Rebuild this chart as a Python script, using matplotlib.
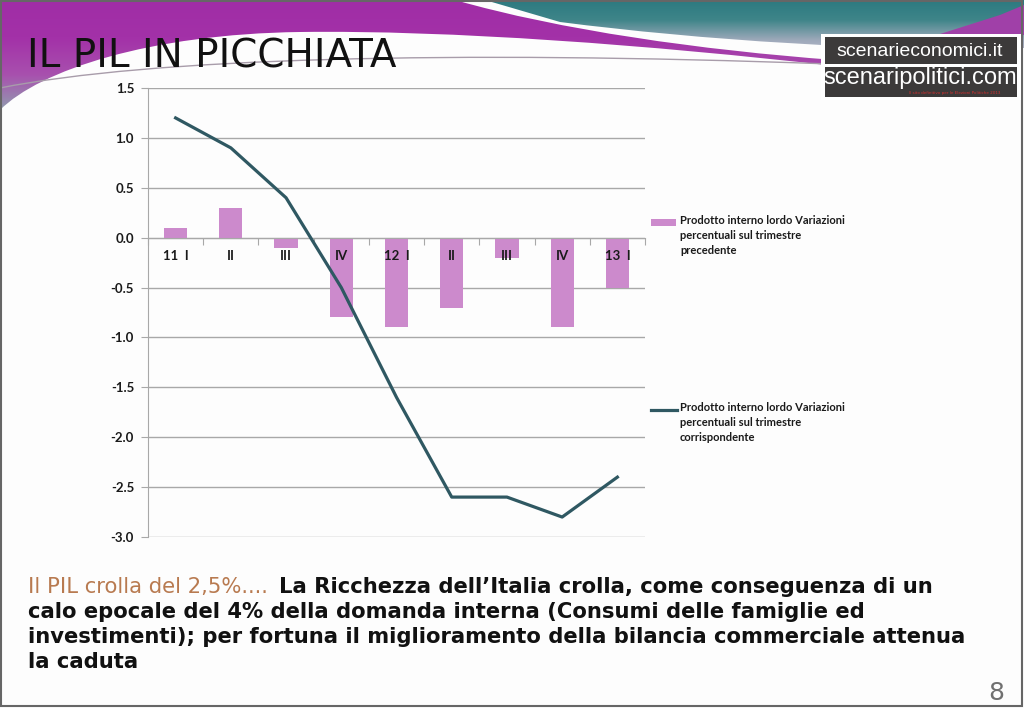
import numpy as np
import matplotlib
matplotlib.use('Agg')
import matplotlib.pyplot as plt
from matplotlib.path import Path
from matplotlib.patches import PathPatch, Rectangle
from matplotlib.colors import LinearSegmentedColormap

# data
quarters = ['11  I', 'II', 'III', 'IV', '12  I', 'II', 'III', 'IV', '13  I']
var_prev = [0.1, 0.3, -0.1, -0.8, -0.9, -0.7, -0.2, -0.9, -0.5]
var_corr = [1.2, 0.9, 0.4, -0.5, -1.6, -2.6, -2.6, -2.8, -2.4]
yticks = [1.5, 1.0, 0.5, 0.0, -0.5, -1.0, -1.5, -2.0, -2.5, -3.0]

lab_prev = 'Prodotto interno lordo Variazioni\npercentuali sul trimestre\nprecedente'
lab_corr = 'Prodotto interno lordo Variazioni\npercentuali sul trimestre\ncorrispondente'

bar_col = '#CC8ACC'
line_col = '#2F5862'

W, H = 1024, 708
fig = plt.figure(figsize=(W / 100, H / 100), dpi=100, facecolor='#FDFDFD')

# ---- slide background (pixel coords, y downwards)
bg = fig.add_axes([0, 0, 1, 1], zorder=-5)
bg.set_xlim(0, W)
bg.set_ylim(H, 0)
bg.axis('off')


def grad_fill(path, cols, extent):
    cmap = LinearSegmentedColormap.from_list('g', cols)
    img = np.linspace(0, 1, 256)[:, None]
    im = bg.imshow(img, cmap=cmap, extent=extent, aspect='auto', zorder=1)
    pp = PathPatch(path, facecolor='none', edgecolor='none')
    bg.add_patch(pp)
    im.set_clip_path(pp)


M, C4, L, CL = Path.MOVETO, Path.CURVE4, Path.LINETO, Path.CLOSEPOLY

# purple band on the left / centre
purple = Path([(0, 0), (455, 0),
               (560, 30), (700, 50), (835, 60),
               (835, 66),
               (650, 45), (450, 30), (300, 32),
               (150, 34), (40, 70), (0, 110),
               (0, 0)],
              [M, L, C4, C4, C4, L, C4, C4, C4, C4, C4, C4, CL])
grad_fill(purple, ['#A02DA6', '#A331A8', '#A850AE', '#8FA1AE'], extent=(0, W, 112, 0))

# teal top right
teal = Path([(485, 0), (W, 0), (W, 48),
             (880, 52), (700, 40), (560, 22),
             (485, 0)],
            [M, L, L, C4, C4, C4, CL])
grad_fill(teal, ['#2C7A80', '#3F8589', '#9DA9BA', '#C8C0D6'], extent=(0, W, 60, 0))

# small purple wedge far right
wedge = Path([(940, 34), (1000, 15), (W, 5), (W, 35), (940, 34)], [M, L, L, L, CL])
bg.add_patch(PathPatch(wedge, facecolor='#A040A8', edgecolor='none', zorder=2))

# thin grey swoosh line across the title
sw = Path([(0, 88), (150, 58), (450, 50), (830, 64)], [M, C4, C4, C4])
bg.add_patch(PathPatch(sw, facecolor='none', edgecolor='#A89CAA', lw=1.0, zorder=3))

# slide border
bg.add_patch(Rectangle((0.5, 0.5), W - 3, H - 3, facecolor='none', edgecolor='#666666', lw=1.5, zorder=4))

# logo
bg.add_patch(Rectangle((821, 34), 200, 66, facecolor='white', edgecolor='none', zorder=5))
bg.add_patch(Rectangle((825, 37), 192, 27, facecolor='#3C3A3A', edgecolor='none', zorder=6))
bg.add_patch(Rectangle((825, 67), 192, 30, facecolor='#3C3A3A', edgecolor='none', zorder=6))
bg.text(920, 51, 'scenarieconomici.it', color='white', fontsize=14, family='Liberation Sans',
        ha='center', va='center', zorder=7)
bg.text(920, 78, 'scenaripolitici.com', color='white', fontsize=17, family='Liberation Sans',
        ha='center', va='center', zorder=7)
bg.text(955, 93, "Il sito definitivo per le Elezioni Politiche 2013", color='#D03030', fontsize=3,
        ha='center', va='center', zorder=7)

# title
bg.text(27, 56, 'IL PIL IN PICCHIATA', fontsize=28, family='DejaVu Sans', color='#111111',
        va='center', ha='left', zorder=8)

# page number
bg.text(1004, 693, '8', fontsize=18, color='#707070', ha='right', va='center', zorder=8)

# ---- chart
ax = fig.add_axes([148 / W, 1 - 537 / H, (645 - 148) / W, (537 - 88) / H])
ax.patch.set_alpha(0)
x = np.arange(len(quarters))
for v in yticks:
    ax.axhline(v, color='#A8A8A8', lw=1, zorder=0.5)
ax.bar(x, var_prev, width=0.42, color=bar_col, zorder=1)
ax.plot(x, var_corr, color=line_col, lw=2.3, zorder=3)

ax.set_xlim(-0.5, len(quarters) - 0.5)
ax.set_ylim(-3.0, 1.5)
ax.set_yticks(yticks)
ax.set_yticklabels(['%.1f' % v for v in yticks])

for s in ['top', 'right']:
    ax.spines[s].set_visible(False)
ax.spines['left'].set_color('#A8A8A8')
ax.spines['bottom'].set_position(('data', 0))
ax.spines['bottom'].set_color('#A8A8A8')

ax.set_xticks(np.arange(len(quarters) + 1) - 0.5)
ax.set_xticklabels([])
ax.set_xticks(x, minor=True)
ax.set_xticklabels(quarters, minor=True)
ax.tick_params(axis='x', which='major', length=5, color='#A8A8A8', direction='out')
ax.tick_params(axis='x', which='minor', length=0, pad=9)
ax.tick_params(axis='y', length=5, color='#A8A8A8', pad=5)
for t in ax.get_xticklabels(minor=True) + ax.get_yticklabels():
    t.set_fontfamily('Lato')
    t.set_fontweight('bold')
    t.set_fontsize(9.5)
    t.set_color('#1A1A1A')

# legend, drawn by hand so the key sits on the first text line
bg.add_patch(Rectangle((651, 219), 25, 7, facecolor=bar_col, edgecolor='none', zorder=8))
bg.plot([651, 677], [410, 410], color=line_col, lw=2.3, zorder=8)
for ytop, lab in [(215, lab_prev), (402, lab_corr)]:
    bg.text(680, ytop, lab, fontsize=8, family='Lato', fontweight='bold', color='#1A1A1A',
            va='top', ha='left', linespacing=1.45, zorder=8)

# ---- comment text at the bottom
fs = 15.2
intro = bg.text(28, 587, 'Il PIL crolla del 2,5%....', fontsize=fs, color='#B87A50',
                family='DejaVu Sans', va='center', ha='left', zorder=8)
bg.annotate('La Ricchezza dell\u2019Italia crolla, come conseguenza di un',
            xy=(1, 0.5), xycoords=intro, xytext=(8, 0), textcoords='offset points',
            fontsize=fs, fontweight='bold', color='#111111', family='DejaVu Sans',
            va='center', ha='left', zorder=8)
body = ['calo epocale del 4% della domanda interna (Consumi delle famiglie ed',
        'investimenti); per fortuna il miglioramento della bilancia commerciale attenua',
        'la caduta']
for i, line in enumerate(body):
    bg.text(28, 612 + 25 * i, line, fontsize=fs, fontweight='bold', color='#111111',
            family='DejaVu Sans', va='center', ha='left', zorder=8)

fig.savefig('out.png', dpi=100, facecolor=fig.get_facecolor())
